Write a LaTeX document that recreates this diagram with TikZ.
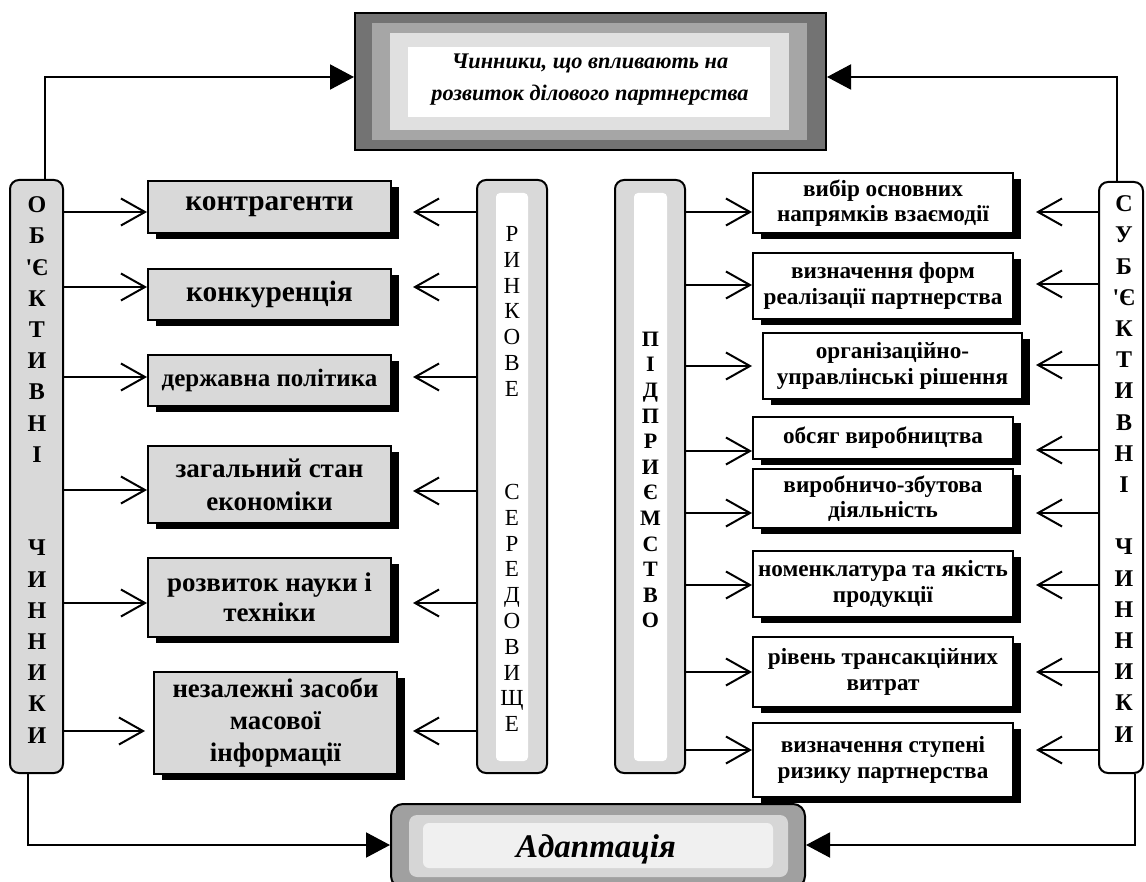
\documentclass[tikz,border=0pt]{standalone}
\usepackage{fontspec}
\newfontfamily\tnr{Liberation Serif}
\usetikzlibrary{arrows.meta,shadows}
\definecolor{lg}{HTML}{D9D9D9}
\definecolor{dg}{HTML}{737373}
\definecolor{mg}{HTML}{A6A6A6}
\definecolor{pg}{HTML}{E0E0E0}
\definecolor{ag}{HTML}{A0A0A0}
\definecolor{am}{HTML}{D6D6D6}
\definecolor{ai}{HTML}{F0F0F0}
\tikzset{
  shbox/.style={draw, line width=2pt, align=center, inner sep=2pt,
    general shadow={fill=black, shadow xshift=8pt, shadow yshift=-6pt}},
  lbox/.style={shbox, fill=lg},
  rbox/.style={shbox, fill=white, font=\tnr\bfseries\fontsize{23.2}{25.5}\selectfont},
  col/.style={draw, line width=2pt, rounded corners=9pt, inner sep=0pt},
  colin/.style={fill=white, rounded corners=4pt, inner sep=0pt},
  oarr/.style={line width=2pt, -{Straight Barb[length=24pt,width=27pt,line width=2pt]}},
  barr/.style={line width=2pt, -{Triangle[length=24pt,width=25pt]}},
  stack/.style={align=center, inner sep=0pt}
}
\begin{document}
\begin{tikzpicture}[x=1pt,y=-1pt]
\useasboundingbox (0,0) rectangle (1146,882);

% ---------- top box ----------
\node[draw, line width=2pt, fill=dg, minimum width=471, minimum height=137, inner sep=0pt] (tb) at (590.5,81.5) {};
\fill[mg] (372,23) rectangle (807,140);
\fill[pg] (390,33) rectangle (789,130);
\fill[white] (408,47) rectangle (770,117);
\node[align=center, font=\tnr\bfseries\itshape\fontsize{22.3}{32}\selectfont] (tt) at (590,80)
  {Чинники, що впливають на\\розвиток ділового партнерства};

% ---------- bottom box ----------
\node[draw, line width=2pt, fill=ag, rounded corners=12pt, minimum width=414, minimum height=84, inner sep=0pt] (ab) at (598,846) {};
\fill[am, rounded corners=8pt] (409,815) rectangle (788,877);
\fill[ai, rounded corners=6pt] (423,823) rectangle (773,868);
\node[font=\tnr\bfseries\itshape\fontsize{33}{38}\selectfont] (at) at (596,849) {Адаптація};

% ---------- columns ----------
\node[col, fill=lg, minimum width=53, minimum height=593] (lc) at (36.5,476.5) {};
\node[stack, font=\tnr\bfseries\fontsize{24}{31.2}\selectfont] (lct) at (37,470)
  {О\\Б\\'Є\\К\\Т\\И\\В\\Н\\І\\\mbox{}\\\mbox{}\\Ч\\И\\Н\\Н\\И\\К\\И};

\node[col, fill=lg, minimum width=70, minimum height=593] (rc) at (512,476.5) {};
\node[colin, minimum width=32, minimum height=568] (rci) at (512,477) {};
\node[stack, font=\tnr\fontsize{23}{25.8}\selectfont] (rct) at (512,479)
  {Р\\И\\Н\\К\\О\\В\\Е\\\mbox{}\\\mbox{}\\\mbox{}\\С\\Е\\Р\\Е\\Д\\О\\В\\И\\Щ\\Е};

\node[col, fill=lg, minimum width=70, minimum height=593] (pc) at (650,476.5) {};
\node[colin, minimum width=33, minimum height=568] (pci) at (650.5,477) {};
\node[stack, font=\tnr\bfseries\fontsize{22}{25.6}\selectfont] (pct) at (650.5,480)
  {П\\І\\Д\\П\\Р\\И\\Є\\М\\С\\Т\\В\\О};

\node[col, fill=white, minimum width=44, minimum height=591] (sc) at (1121,477.5) {};
\node[stack, font=\tnr\bfseries\fontsize{24}{31.2}\selectfont] (sct) at (1124,469)
  {С\\У\\Б\\'Є\\К\\Т\\И\\В\\Н\\І\\\mbox{}\\Ч\\И\\Н\\Н\\И\\К\\И};

% ---------- left boxes ----------
\node[lbox, minimum width=243, minimum height=52, font=\tnr\bfseries\fontsize{29.4}{33}\selectfont] (k1) at (269.5,207) {контрагенти};
\node[lbox, minimum width=243, minimum height=51, font=\tnr\bfseries\fontsize{29.4}{33}\selectfont] (k2) at (269.5,294.5) {конкуренція};
\node[lbox, minimum width=243, minimum height=51, font=\tnr\bfseries\fontsize{25}{30}\selectfont] (k3) at (269.5,380.5) {державна політика};
\node[lbox, minimum width=243, minimum height=77, font=\tnr\bfseries\fontsize{27}{33}\selectfont] (k4) at (269.5,484.5) {загальний стан\\економіки};
\node[lbox, minimum width=243, minimum height=79, font=\tnr\bfseries\fontsize{27}{30}\selectfont] (k5) at (269.5,597.5) {розвиток науки і\\техніки};
\node[lbox, minimum width=243, minimum height=102, font=\tnr\bfseries\fontsize{26.8}{32}\selectfont] (k6) at (275.5,723) {незалежні засоби\\масової\\інформації};

% ---------- right boxes ----------
\node[rbox, minimum width=260, minimum height=60] (r1) at (883,203) {вибір основних\\напрямків взаємодії};
\node[rbox, minimum width=260, minimum height=66] (r2) at (883,286) {визначення форм\\реалізації партнерства};
\node[rbox, minimum width=259, minimum height=66] (r3) at (892.5,366) {організаційно-\\управлінські рішення};
\node[rbox, minimum width=260, minimum height=42] (r4) at (883,438) {обсяг виробництва};
\node[rbox, minimum width=260, minimum height=59] (r5) at (883,498.5) {виробничо-збутова\\діяльність};
\node[rbox, minimum width=260, minimum height=66] (r6) at (883,584) {номенклатура та якість\\продукції};
\node[rbox, minimum width=260, minimum height=70] (r7) at (883,672) {рівень трансакційних\\витрат};
\node[rbox, minimum width=260, minimum height=74] (r8) at (883,760) {визначення ступені\\ризику партнерства};

% ---------- arrows: left column -> left boxes ----------
\draw[oarr] (lc.east |- 0,212) -- (k1.west |- 0,212);
\draw[oarr] (lc.east |- 0,287) -- (k2.west |- 0,287);
\draw[oarr] (lc.east |- 0,377) -- (k3.west |- 0,377);
\draw[oarr] (lc.east |- 0,490) -- (k4.west |- 0,490);
\draw[oarr] (lc.east |- 0,603) -- (k5.west |- 0,603);
\draw[oarr] (lc.east |- 0,731) -- ([xshift=-8pt]k6.west |- 0,731);

% ---------- arrows: market column -> left boxes ----------
\draw[oarr, shorten >=21pt] (rc.west |- 0,212) -- (k1.east |- 0,212);
\draw[oarr, shorten >=21pt] (rc.west |- 0,287) -- (k2.east |- 0,287);
\draw[oarr, shorten >=21pt] (rc.west |- 0,377) -- (k3.east |- 0,377);
\draw[oarr, shorten >=21pt] (rc.west |- 0,491) -- (k4.east |- 0,491);
\draw[oarr, shorten >=21pt] (rc.west |- 0,603) -- (k5.east |- 0,603);
\draw[oarr, shorten >=15pt] (rc.west |- 0,731) -- (k6.east |- 0,731);

% ---------- arrows: enterprise column -> right boxes ----------
\draw[oarr] (pc.east |- 0,212) -- (r1.west |- 0,212);
\draw[oarr] (pc.east |- 0,285) -- (r2.west |- 0,285);
\draw[oarr] (pc.east |- 0,366) -- ([xshift=-10pt]r3.west |- 0,366);
\draw[oarr] (pc.east |- 0,451) -- (r4.west |- 0,451);
\draw[oarr] (pc.east |- 0,513) -- (r5.west |- 0,513);
\draw[oarr] (pc.east |- 0,585) -- (r6.west |- 0,585);
\draw[oarr] (pc.east |- 0,672) -- (r7.west |- 0,672);
\draw[oarr] (pc.east |- 0,750) -- (r8.west |- 0,750);

% ---------- arrows: subjective column -> right boxes ----------
\draw[oarr, shorten >=22pt] (sc.west |- 0,212) -- (r1.east |- 0,212);
\draw[oarr, shorten >=22pt] (sc.west |- 0,284) -- (r2.east |- 0,284);
\draw[oarr, shorten >=13pt] (sc.west |- 0,365) -- (r3.east |- 0,365);
\draw[oarr, shorten >=22pt] (sc.west |- 0,450) -- (r4.east |- 0,450);
\draw[oarr, shorten >=22pt] (sc.west |- 0,513) -- (r5.east |- 0,513);
\draw[oarr, shorten >=22pt] (sc.west |- 0,585) -- (r6.east |- 0,585);
\draw[oarr, shorten >=22pt] (sc.west |- 0,672) -- (r7.east |- 0,672);
\draw[oarr, shorten >=22pt] (sc.west |- 0,750) -- (r8.east |- 0,750);

% ---------- feedback lines ----------
\draw[barr] (lc.north -| 45,0) |- (tb.west |- 0,77);
\draw[barr] (sc.north -| 1117,0) |- (tb.east |- 0,77);
\draw[barr] (lc.south -| 28,0) |- (ab.west |- 0,845);
\draw[barr] (sc.south -| 1135,0) |- (ab.east |- 0,845);
\end{tikzpicture}
\end{document}
